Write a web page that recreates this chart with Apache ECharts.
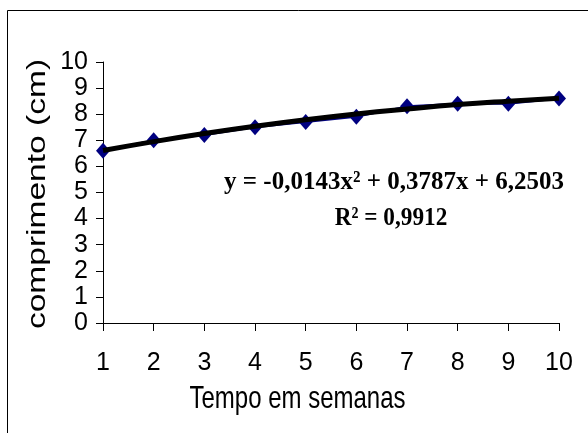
<!DOCTYPE html>
<html>
<head>
<meta charset="utf-8">
<script src="https://cdn.jsdelivr.net/npm/echarts@6/dist/echarts.min.js"></script>
<style>
  html, body { margin: 0; padding: 0; background: #fff; }
  #chart { width: 588px; height: 433px; }
</style>
</head>
<body>
<div id="chart"></div>
<script>
// Weekly length measurements (cm)
const weeks = [1, 2, 3, 4, 5, 6, 7, 8, 9, 10];
const lengths = [6.6, 7.0, 7.2, 7.5, 7.7, 7.9, 8.3, 8.4, 8.4, 8.6];
// Polynomial trend line, values at each week
const trendValues = [6.61, 6.95, 7.26, 7.54, 7.79, 8.01, 8.20, 8.37, 8.50, 8.61];
const yTicks = [0, 1, 2, 3, 4, 5, 6, 7, 8, 9, 10];
const equationText = 'y = -0,0143x² + 0,3787x + 6,2503';
const r2Text = 'R² = 0,9912';
const xTitle = 'Tempo em semanas';
const yTitle = 'comprimento (cm)';

const tickFont = "'Liberation Sans Narrow', 'Arial Narrow', 'Liberation Sans', Arial, sans-serif";
const eqFont = "bold 25px 'Liberation Serif', 'Times New Roman', serif";

const chart = echarts.init(document.getElementById('chart'), null, { renderer: 'canvas' });

chart.setOption({
  backgroundColor: '#ffffff',
  animation: false,
  grid: { left: 103, right: 29, top: 62, bottom: 110, containLabel: false },
  xAxis: {
    type: 'value',
    min: weeks[0],
    max: weeks[weeks.length - 1],
    interval: 1,
    splitLine: { show: false },
    axisLine: { lineStyle: { color: '#000', width: 1 } },
    axisTick: { show: true, length: 8, inside: false, lineStyle: { color: '#000' } },
    axisLabel: { fontFamily: tickFont, fontSize: 25, color: '#000', margin: 28 }
  },
  yAxis: {
    type: 'value',
    min: yTicks[0],
    max: yTicks[yTicks.length - 1],
    interval: 1,
    splitLine: { show: false },
    axisLine: { show: true, lineStyle: { color: '#000', width: 1 } },
    axisTick: { show: true, length: 7, inside: false, lineStyle: { color: '#000' } },
    axisLabel: { fontFamily: tickFont, fontSize: 25, color: '#000', margin: 15 }
  },
  series: [
    {
      name: 'comprimento',
      type: 'line',
      data: weeks.map((w, i) => [w, lengths[i]]),
      symbol: 'diamond',
      symbolSize: [14, 16],
      itemStyle: { color: '#000080' },
      lineStyle: { color: '#000080', width: 2 },
      z: 2
    },
    {
      name: 'tendência',
      type: 'line',
      data: weeks.map((w, i) => [w, trendValues[i]]),
      smooth: true,
      symbol: 'none',
      lineStyle: { color: '#000', width: 5 },
      z: 3
    }
  ],
  graphic: [
    // outer frame
    {
      type: 'rect',
      shape: { x: 7.5, y: 10.5, width: 700, height: 600 },
      style: { fill: 'none', stroke: '#000', lineWidth: 1 },
      silent: true
    },
    {
      type: 'text',
      x: 394, y: 182,
      scaleY: 1.05,
      style: {
        text: equationText,
        x: 0, y: 0,
        textAlign: 'center', textVerticalAlign: 'middle',
        font: eqFont,
        fill: '#000'
      },
      z: 10
    },
    {
      type: 'text',
      x: 391, y: 218.5,
      scaleX: 0.93,
      scaleY: 1.05,
      style: {
        text: r2Text,
        x: 0, y: 0,
        textAlign: 'center', textVerticalAlign: 'middle',
        font: eqFont,
        fill: '#000'
      },
      z: 10
    },
    {
      type: 'text',
      x: 297.5, y: 399.5,
      scaleY: 1.31,
      style: {
        text: xTitle,
        x: 0, y: 0,
        textAlign: 'center', textVerticalAlign: 'middle',
        font: "24px 'Liberation Sans', Arial, sans-serif",
        fill: '#000'
      },
      z: 10
    },
    {
      type: 'text',
      x: 38, y: 194,
      rotation: Math.PI / 2,
      scaleX: 1.29,
      style: {
        text: yTitle,
        x: 0, y: 0,
        textAlign: 'center', textVerticalAlign: 'middle',
        font: "26px 'Liberation Sans', Arial, sans-serif",
        fill: '#000'
      },
      z: 10
    }
  ]
});
</script>
</body>
</html>
